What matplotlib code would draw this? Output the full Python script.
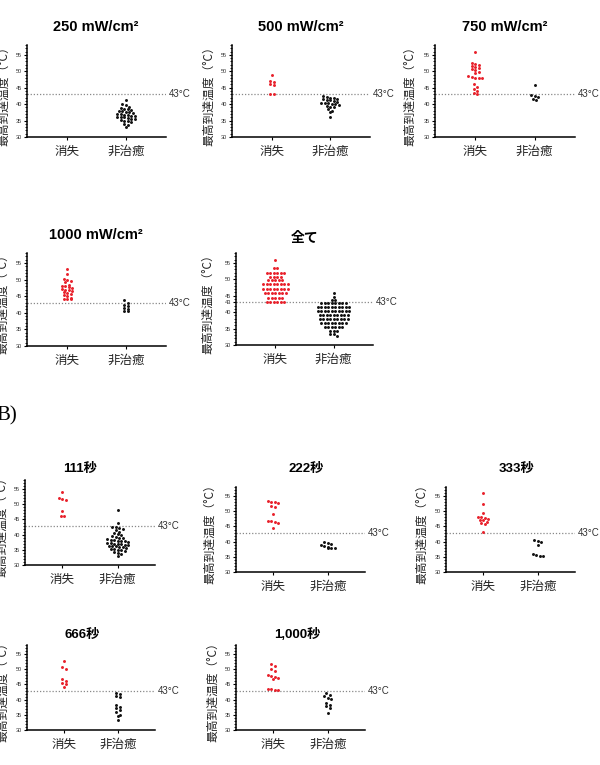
import numpy as np
import matplotlib
matplotlib.use("Agg")
import matplotlib.pyplot as plt
from matplotlib.ticker import MultipleLocator

plt.rcParams['font.family'] = ['Liberation Sans', 'Noto Sans CJK JP', 'DejaVu Sans']

categories = ['消失', '非治癒']
ylabel = '最高到達温度（°C）'
threshold = 43

# (A) irradiance
red_250 = []
black_250 = [41.3, 40.0, 39.6, 39.2, 38.9, 38.6, 38.4, 38.2, 38.0, 37.8, 37.6, 37.3, 37.1,
             36.9, 36.7, 36.5, 36.3, 36.1, 36.0, 35.8, 35.6, 35.4, 35.2, 35.0, 34.8, 34.5,
             34.0, 33.6, 33.0, 37.5, 36.6, 36.2]
red_500 = [49.0, 46.9, 46.7, 46.0, 45.8, 43.1, 43.0]
black_500 = [42.5, 42.3, 42.0, 41.8, 41.6, 41.4, 41.2, 41.0, 40.8, 40.5, 40.3, 40.1, 40.0,
             39.8, 39.5, 39.2, 39.0, 38.6, 38.0, 37.5, 36.0, 41.7, 40.4]
red_750 = [55.9, 52.6, 52.2, 51.8, 51.5, 51.3, 51.0, 50.6, 50.3, 49.9, 49.5, 48.6, 48.3,
           48.1, 48.0, 47.9, 46.0, 45.2, 44.6, 44.0, 43.5, 43.2]
black_750 = [45.7, 42.9, 42.5, 42.2, 41.5, 41.2]
red_1000 = [53.2, 51.8, 50.2, 49.9, 49.6, 49.3, 48.5, 48.2, 48.0, 47.8, 47.5, 47.3, 47.0,
            46.8, 46.5, 46.2, 46.0, 45.6, 45.3, 45.0, 44.6, 44.3, 44.0, 44.2]
black_1000 = [43.8, 43.0, 42.4, 42.0, 41.5, 41.0, 40.6, 40.4]
red_all = [55.9, 53.3, 53.3,
           52.0, 52.0, 52.0, 52.0, 52.0, 52.0, 50.8, 50.8, 50.8, 50.8,
           49.8, 49.8, 49.8, 49.8, 49.8,
           48.5, 48.5, 48.5, 48.5, 48.5, 48.5, 48.5, 48.5,
           47.0, 47.0, 47.0, 47.0, 47.0, 47.0, 47.0, 47.0,
           45.7, 45.7, 45.7, 45.7, 45.7, 45.7, 45.7,
           44.4, 44.4, 44.4, 44.4, 44.4, 43.2, 43.2, 43.2, 43.2, 43.2, 43.2]
black_all = [45.9, 44.7, 43.7, 43.7,
             42.8, 42.8, 42.8, 42.8, 42.8, 42.8, 42.8, 42.8,
             41.6, 41.6, 41.6, 41.6, 41.6, 41.6, 41.6, 41.6, 41.6, 41.6,
             40.4, 40.4, 40.4, 40.4, 40.4, 40.4, 40.4, 40.4, 40.4, 40.4,
             39.2, 39.2, 39.2, 39.2, 39.2, 39.2, 39.2, 39.2, 39.2,
             38.0, 38.0, 38.0, 38.0, 38.0, 38.0, 38.0, 38.0, 38.0,
             36.8, 36.8, 36.8, 36.8, 36.8, 36.8, 36.8, 36.8,
             35.6, 35.6, 35.6, 35.6, 35.6, 35.6,
             34.4, 34.4, 34.4, 33.4, 33.4, 32.8]

# (B) duration
red_111 = [54.1, 52.1, 51.8, 51.4, 47.7, 46.0, 46.0]
black_111 = [48.0, 44.0, 42.6, 42.4, 42.2, 42.0, 41.6, 41.0, 40.6, 40.2, 40.0, 39.6, 39.2,
             39.0, 38.8, 38.5, 38.3, 38.1, 38.0, 37.8, 37.6, 37.4, 37.2, 37.0, 36.8, 36.7,
             36.5, 36.4, 36.2, 36.0, 35.8, 35.6, 35.4, 35.2, 35.0, 34.8, 34.5, 34.2, 33.8,
             33.5, 33.0, 37.9, 36.9, 36.3]
red_222 = [53.4, 53.2, 53.0, 52.8, 51.6, 51.4, 49.2, 46.9, 46.7, 46.5, 46.3, 44.5]
black_222 = [40.0, 39.6, 39.2, 38.8, 38.6, 38.2, 38.0, 37.9, 37.8]
red_333 = [56.0, 52.4, 49.6, 48.2, 48.0, 47.8, 47.6, 47.2, 47.0, 46.5, 46.0, 45.8, 43.3]
black_333 = [40.5, 40.2, 39.8, 39.0, 35.9, 35.7, 35.4, 35.3]
red_666 = [52.6, 50.8, 50.0, 46.7, 46.0, 45.5, 45.0, 44.3]
black_666 = [42.2, 41.9, 41.2, 40.8, 38.3, 37.6, 37.2, 36.5, 35.8, 35.0, 34.6, 33.2]
red_1000s = [51.8, 51.2, 50.0, 49.4, 48.0, 47.8, 47.5, 47.2, 46.9, 43.6, 43.4, 43.3, 43.2]
black_1000s = [42.2, 41.6, 41.2, 40.6, 40.3, 39.0, 38.4, 37.8, 37.4, 35.6]

W, H = 600, 765
fig = plt.figure(figsize=(W / 100, H / 100), dpi=100)

# box = (left, top, right, bottom) in pixels, tpos = title centre, ylx = y label centre x
panels = [
    dict(title='250 mW/cm²', red=red_250, black=black_250, box=(27, 45, 166, 137), tpos=(96, 27), ylx=4, fs=10.5),
    dict(title='500 mW/cm²', red=red_500, black=black_500, box=(232, 45, 370, 137), tpos=(301, 27), ylx=209, fs=10.5),
    dict(title='750 mW/cm²', red=red_750, black=black_750, box=(435, 45, 575, 137), tpos=(505, 27), ylx=410, fs=10.5),
    dict(title='1000 mW/cm²', red=red_1000, black=black_1000, box=(27, 253, 166, 346), tpos=(96, 235), ylx=3, fs=10.5),
    dict(title='全て', red=red_all, black=black_all, box=(236, 253, 373, 345), tpos=(305, 238), ylx=208, fs=10, all=True),
    dict(title='111秒', red=red_111, black=black_111, box=(25, 480, 155, 565), tpos=(80, 469), ylx=2, fs=9.5),
    dict(title='222秒', red=red_222, black=black_222, box=(236, 487, 365, 572), tpos=(306, 469), ylx=210, fs=9.5),
    dict(title='333秒', red=red_333, black=black_333, box=(446, 487, 575, 572), tpos=(517, 469), ylx=422, fs=9.5),
    dict(title='666秒', red=red_666, black=black_666, box=(27, 645, 155, 730), tpos=(82, 635), ylx=3, fs=9.5),
    dict(title='1,000秒', red=red_1000s, black=black_1000s, box=(236, 645, 365, 730), tpos=(297, 635), ylx=213, fs=9.5),
]


def spread(ax, xc, vals, row=2.9, step=3.5):
    # Prism-style scatter: points within one pixel row are spread sideways
    vals = np.asarray(vals, float)
    if len(vals) == 0:
        return vals, vals
    pix = ax.transData.transform(np.column_stack([np.full(len(vals), xc), vals]))
    order = np.argsort(-vals, kind='stable')
    groups, cur, anchor = [], [], None
    for i in order:
        if anchor is None or abs(pix[i, 1] - anchor) < row:
            if anchor is None:
                anchor = pix[i, 1]
            cur.append(i)
        else:
            groups.append(cur)
            cur, anchor = [i], pix[i, 1]
    groups.append(cur)
    xs = pix[:, 0].copy()
    for g in groups:
        n = len(g)
        xs[g] = pix[g, 0] + (np.arange(n) - (n - 1) / 2) * step
    back = ax.transData.inverted().transform(np.column_stack([xs, pix[:, 1]]))
    return back[:, 0], vals


for p in panels:
    l, t, r, b = p['box']
    ax = fig.add_axes([l / W, 1 - b / H, (r - l) / W, (b - t) / H])
    ax.set_xlim(-0.68, 1.68)
    ax.set_ylim(30, 58)
    for s in ['top', 'right']:
        ax.spines[s].set_visible(False)
    for s in ['left', 'bottom']:
        ax.spines[s].set_linewidth(1.1)
    ax.set_xticks([0, 1])
    ax.set_xticklabels(categories, fontsize=9, family=['Noto Sans CJK JP'], color='#222222')
    ticks = [30, 35, 40, 43, 45, 50, 55] if p.get('all') else [30, 35, 40, 45, 50, 55]
    ax.set_yticks(ticks)
    ax.yaxis.set_minor_locator(MultipleLocator(1))
    ax.tick_params(axis='y', which='major', labelsize=4, length=2.2, width=0.8, pad=1.5, labelcolor='#333333')
    ax.tick_params(axis='y', which='minor', length=1.2, width=0.6)
    ax.tick_params(axis='x', length=2.2, width=0.8, pad=3.5)
    ax.axhline(threshold, color='#888888', lw=0.9, ls=(0, (1, 1.5)), zorder=1)
    ax.annotate('43°C', xy=(1, threshold), xycoords=('axes fraction', 'data'),
                xytext=(3, 0), textcoords='offset pixels', va='center', ha='left',
                fontsize=7, color='#333333', annotation_clip=False)

    xr, yr = spread(ax, 0, p['red'])
    xb, yb = spread(ax, 1, p['black'])
    ax.scatter(xr, yr, s=4.5, color='#e8202a', linewidths=0, zorder=3, clip_on=False)
    ax.scatter(xb, yb, s=4.5, color='#111111', linewidths=0, zorder=3, clip_on=False)

    fig.text(p['tpos'][0] / W, 1 - p['tpos'][1] / H, p['title'], ha='center', va='center',
             fontsize=p['fs'], fontweight='bold')
    fig.text(p['ylx'] / W, 1 - ((t + b) / 2 + 2) / H, ylabel, rotation=90, ha='center', va='center',
             fontsize=8.5, family=['Noto Sans CJK JP', 'DejaVu Sans'], color='#222222')

fig.text(-4 / W, 1 - 416 / H, 'B)', fontsize=15, family=['Liberation Serif'], ha='left', va='center')

fig.savefig('out.png', dpi=100)
